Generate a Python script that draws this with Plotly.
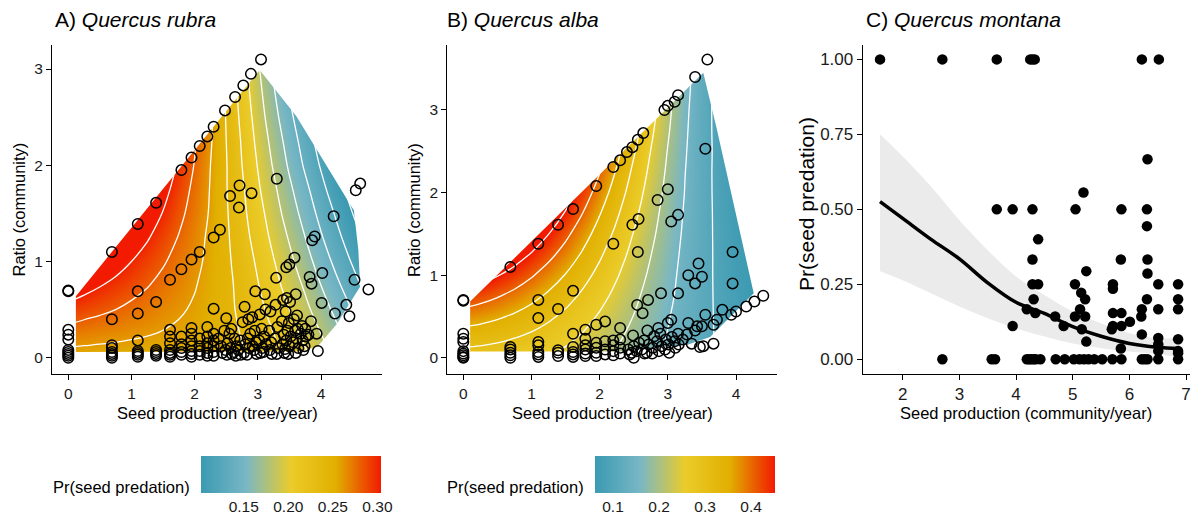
import plotly.graph_objects as go

W, H = 1195, 518

# ---------------- data: panel A (Quercus rubra) ----------------
a_cols_x = [0.0, 0.69, 1.10, 1.39, 1.61, 1.79, 1.95, 2.08, 2.20, 2.30]
a_cols_r = [
    [0.70, 0.69, 0.29, 0.24, 0.19, 0.08, 0.06, 0.04, 0.02, 0.0],
    [1.10, 0.40, 0.13, 0.10, 0.06, 0.04, 0.02, 0.0],
    [1.39, 0.69, 0.46, 0.18, 0.07, 0.05, 0.03, 0.01],
    [1.61, 0.58, 0.08, 0.06, 0.04, 0.02],
    [0.81, 0.29, 0.22, 0.15, 0.08, 0.05, 0.03, 0.01],
    [1.95, 0.92, 0.22, 0.14, 0.10, 0.06, 0.03],
    [2.08, 1.02, 0.31, 0.25, 0.18, 0.12, 0.07, 0.04, 0.01],
    [2.20, 1.10, 0.20, 0.12, 0.07, 0.03],
    [2.30, 0.32, 0.22, 0.15, 0.10, 0.05, 0.02],
    [2.40, 1.25, 0.51, 0.25, 0.18, 0.12, 0.06, 0.02],
]
a_pts_x = [2.40, 2.38, 2.42, 2.44, 2.48, 2.50, 2.47, 2.52, 2.49, 2.51, 2.56, 2.58, 2.55, 2.57, 2.59,
           2.64, 2.63, 2.66, 2.62, 2.65, 2.71, 2.70, 2.72, 2.69, 2.73, 2.77, 2.79, 2.76, 2.80, 2.78,
           2.85, 2.84, 2.86, 2.83, 2.89, 2.90, 2.91, 2.88, 2.92, 2.96, 2.95, 2.97, 2.94, 2.98,
           3.05, 3.03, 3.06, 3.02, 3.07, 3.04, 3.11, 3.12, 3.10, 3.13, 3.09, 3.20, 3.18, 3.21, 3.19, 3.22,
           3.30, 3.29, 3.28, 3.31, 3.27, 3.32, 3.30, 3.40, 3.38, 3.41, 3.39, 3.42,
           3.45, 3.46, 3.44, 3.47, 3.45, 3.43, 3.50, 3.51, 3.49, 3.52, 3.50, 3.48,
           3.58, 3.60, 3.57, 3.59, 3.56, 3.62, 3.63, 3.61, 3.64, 3.60, 3.70, 3.68, 3.71, 3.72,
           3.75, 3.76, 3.74, 3.82, 3.85, 3.84, 3.80, 3.86, 3.90, 3.95, 3.93, 4.02, 4.01,
           4.20, 4.22, 4.40, 4.45, 4.55, 4.53, 4.62, 4.75]
a_pts_r = [1.33, 0.20, 0.12, 0.05, 2.57, 0.41, 0.28, 0.15, 0.08, 0.03, 1.68, 0.30, 0.25, 0.10, 0.04,
           2.71, 0.20, 0.12, 0.06, 0.02, 1.79, 1.56, 0.18, 0.08, 0.03, 2.83, 0.53, 0.37, 0.14, 0.05,
           0.40, 0.20, 0.10, 0.03, 2.95, 1.71, 0.42, 0.25, 0.12, 0.69, 0.28, 0.16, 0.08, 0.04,
           3.10, 0.45, 0.30, 0.18, 0.10, 0.05, 0.66, 0.50, 0.22, 0.14, 0.06, 0.48, 0.28, 0.16, 0.08, 0.04,
           1.86, 0.83, 0.55, 0.32, 0.20, 0.10, 0.04, 0.60, 0.38, 0.24, 0.14, 0.05,
           0.94, 0.62, 0.48, 0.28, 0.18, 0.09, 0.97, 0.58, 0.36, 0.22, 0.12, 0.04,
           1.04, 0.66, 0.40, 0.28, 0.16, 0.44, 0.30, 0.20, 0.10, 0.05, 0.33, 0.25, 0.18, 0.08,
           0.30, 0.22, 0.12, 0.84, 0.77, 0.38, 0.24, 1.22, 1.26, 0.07, 0.25, 0.88, 0.57,
           1.47, 0.46, 0.55, 0.43, 1.74, 0.81, 1.81, 0.71]
a_hull_x = [0.12, 3.65, 3.95, 4.25, 4.62, 4.59, 4.52, 3.61, 3.03, 0.12]
a_hull_r = [0.06, 0.065, 0.12, 0.35, 0.74, 1.12, 1.53, 2.51, 2.99, 0.64]

# predicted Pr(seed predation) surface (per mille)
pred_a_x = [0.0, 0.25, 0.5, 0.75, 1.0, 1.25, 1.5, 1.75, 2.0, 2.25, 2.5, 2.75, 3.0, 3.25, 3.5, 3.75, 4.0, 4.25, 4.5, 4.75]
pred_a_r = [0.0, 0.25, 0.5, 0.75, 1.0, 1.25, 1.5, 1.75, 2.0, 2.25, 2.5, 2.75, 3.0]
pred_a = [
    [251, 251, 251, 251, 251, 251, 251, 251, 251, 250, 247, 242, 235, 226, 216, 204, 191, 177, 162, 147],
    [272, 269, 267, 265, 263, 261, 259, 257, 255, 251, 246, 239, 230, 220, 208, 195, 180, 165, 150, 135],
    [293, 288, 284, 280, 275, 271, 266, 262, 258, 253, 245, 236, 226, 213, 200, 185, 170, 154, 139, 123],
    [315, 308, 301, 294, 288, 281, 274, 268, 261, 254, 245, 234, 221, 207, 192, 177, 160, 144, 128, 112],
    [339, 329, 319, 310, 300, 291, 282, 273, 265, 255, 244, 231, 217, 201, 185, 168, 151, 134, 118, 102],
    [363, 350, 338, 325, 313, 302, 290, 279, 268, 256, 243, 228, 212, 195, 178, 160, 142, 125, 109, 93],
    [387, 372, 357, 342, 327, 313, 299, 285, 272, 258, 242, 225, 208, 189, 171, 152, 134, 117, 100, 85],
    [413, 394, 376, 358, 341, 323, 307, 291, 275, 259, 241, 223, 203, 184, 164, 145, 126, 108, 92, 77],
    [439, 417, 396, 375, 355, 335, 315, 297, 279, 260, 241, 220, 199, 178, 157, 137, 118, 101, 85, 70],
    [465, 440, 416, 392, 369, 346, 324, 303, 282, 262, 240, 218, 195, 173, 151, 131, 111, 94, 78, 64],
    [491, 464, 436, 410, 383, 358, 333, 309, 286, 263, 239, 215, 191, 167, 145, 124, 105, 87, 71, 58],
    [517, 487, 457, 427, 398, 369, 342, 315, 289, 264, 238, 212, 187, 162, 139, 118, 98, 81, 65, 52],
    [544, 511, 478, 445, 413, 381, 351, 321, 293, 265, 237, 210, 183, 157, 133, 112, 92, 75, 60, 48],
]

# ---------------- data: panel B (Quercus alba) ----------------
b_cols_x = [0.0, 0.69, 1.10, 1.39, 1.61, 1.79, 1.95, 2.08, 2.20, 2.30]
b_cols_r = [
    [0.70, 0.69, 0.29, 0.23, 0.19, 0.08, 0.05, 0.03, 0.01, 0.0],
    [1.10, 0.13, 0.10, 0.06, 0.03, 0.0],
    [1.38, 0.70, 0.48, 0.19, 0.15, 0.07, 0.04, 0.01],
    [1.61, 0.59, 0.09, 0.06, 0.02],
    [1.80, 0.81, 0.29, 0.13, 0.07, 0.04, 0.01],
    [0.34, 0.23, 0.15, 0.10, 0.05, 0.02],
    [2.08, 0.40, 0.18, 0.12, 0.06, 0.02],
    [0.44, 0.20, 0.10, 0.04],
    [2.31, 1.38, 0.21, 0.15, 0.08, 0.03],
    [2.39, 0.36, 0.22, 0.12, 0.05],
]
b_pts_x = [2.40, 2.42, 2.44, 2.48, 2.48, 2.49, 2.50, 2.47, 2.50, 2.56, 2.57, 2.56, 2.55, 2.58, 2.54,
           2.64, 2.63, 2.65, 2.62, 2.66, 2.71, 2.70, 2.72, 2.69, 2.80, 2.78, 2.77, 2.85, 2.86, 2.84, 2.87,
           2.90, 2.89, 2.91, 2.95, 2.97, 2.96, 3.00, 3.00, 3.00, 3.01, 3.02, 3.05, 3.05, 3.06,
           3.10, 3.10, 3.11, 3.15, 3.15, 3.15, 3.15, 3.16, 3.22, 3.30, 3.30, 3.28,
           3.40, 3.40, 3.40, 3.35, 3.45, 3.47, 3.43, 3.50, 3.50, 3.52, 3.55, 3.55, 3.58,
           3.67, 3.67, 3.72, 3.80, 3.95, 3.95, 3.93, 4.00, 4.15, 4.27, 4.40]
b_pts_r = [2.49, 0.10, 0.04, 2.55, 1.61, 0.27, 0.14, 0.06, 0.0, 2.64, 1.68, 1.28, 0.64, 0.18, 0.08,
           2.72, 0.54, 0.21, 0.10, 0.05, 0.70, 0.33, 0.16, 0.06, 0.26, 0.12, 0.05, 1.91, 0.36, 0.20, 0.08,
           0.78, 0.29, 0.14, 3.00, 0.22, 0.10, 3.05, 2.04, 0.42, 0.16, 0.06, 1.65, 0.46, 0.25,
           3.10, 0.20, 0.12, 3.18, 1.73, 0.78, 0.29, 0.16, 0.22, 1.00, 0.42, 0.28,
           3.40, 0.90, 0.33, 0.17, 1.14, 0.13, 0.38, 0.98, 0.38, 0.14, 2.53, 0.52, 3.61,
           0.17, 0.40, 0.46, 0.58, 1.28, 0.90, 0.52, 0.56, 0.62, 0.68, 0.75]
b_hull_x = [0.10, 2.35, 3.30, 3.62, 4.26, 3.71, 3.52, 0.10]
b_hull_r = [0.075, 0.075, 0.16, 0.25, 0.78, 2.80, 3.45, 0.68]

pred_b_x = [0.0, 0.25, 0.5, 0.75, 1.0, 1.25, 1.5, 1.75, 2.0, 2.25, 2.5, 2.75, 3.0, 3.25, 3.5, 3.75, 4.0, 4.25]
pred_b_r = [0.0, 0.25, 0.5, 0.75, 1.0, 1.25, 1.5, 1.75, 2.0, 2.25, 2.5, 2.75, 3.0, 3.25, 3.5]
pred_b = [
    [275, 274, 270, 265, 257, 248, 236, 223, 209, 193, 177, 160, 144, 127, 111, 96, 82, 69],
    [324, 319, 312, 302, 291, 277, 262, 245, 226, 207, 188, 168, 148, 130, 112, 95, 80, 66],
    [377, 368, 357, 343, 327, 309, 289, 268, 245, 222, 199, 176, 153, 132, 112, 94, 78, 63],
    [433, 420, 404, 386, 365, 342, 318, 292, 265, 238, 210, 184, 159, 135, 113, 93, 76, 61],
    [492, 474, 453, 430, 405, 377, 348, 317, 286, 254, 223, 192, 164, 137, 114, 92, 74, 59],
    [550, 528, 504, 476, 446, 414, 380, 344, 307, 271, 235, 201, 169, 140, 114, 92, 72, 56],
    [607, 582, 554, 523, 488, 451, 412, 371, 330, 289, 248, 210, 175, 143, 115, 91, 71, 54],
    [661, 634, 603, 568, 531, 489, 446, 400, 353, 307, 262, 219, 180, 146, 116, 90, 69, 52],
    [711, 683, 650, 613, 572, 528, 479, 429, 377, 326, 276, 229, 186, 149, 116, 89, 67, 50],
    [757, 728, 694, 656, 613, 565, 514, 459, 402, 345, 290, 239, 192, 151, 117, 88, 66, 48],
    [797, 769, 735, 697, 652, 602, 548, 489, 427, 365, 305, 249, 198, 154, 118, 88, 64, 46],
    [833, 805, 773, 734, 690, 638, 581, 519, 453, 386, 321, 260, 205, 157, 118, 87, 63, 44],
    [863, 837, 806, 769, 725, 673, 614, 549, 479, 407, 337, 270, 211, 160, 119, 86, 61, 42],
    [888, 865, 836, 800, 757, 706, 646, 578, 505, 428, 353, 281, 218, 164, 120, 85, 60, 41],
    [909, 888, 862, 828, 787, 736, 676, 607, 531, 450, 369, 293, 224, 167, 120, 85, 58, 39],
]

# ---------------- data: panel C (Quercus montana) ----------------
c_x = [1.60, 2.70, 3.66, 4.25, 4.29, 4.33, 6.22, 6.52,
       2.70, 3.57, 3.63, 4.19, 4.23, 4.27, 4.31, 4.35, 4.43, 4.70, 4.86, 5.02, 5.12, 5.20, 5.28, 5.38,
       5.52, 5.70, 5.86, 6.22, 6.27, 6.32, 6.51, 6.86,
       3.66, 3.94, 4.29, 5.05, 5.86, 6.31, 5.19, 6.32, 6.31, 4.39, 4.29, 5.85, 6.32, 5.24, 6.32,
       4.29, 4.39, 5.04, 5.71, 6.51, 6.86, 5.71, 5.15, 4.31, 5.22, 6.31, 6.86,
       4.19, 5.13, 6.22, 6.51, 6.86, 4.34, 5.71, 5.86, 4.69, 5.04, 5.22, 6.21, 6.01,
       3.94, 4.84, 5.71, 5.86, 5.69, 5.16, 6.22, 6.51, 6.86, 5.24, 6.51, 5.85, 6.86, 6.51, 6.86]
c_y = [1.0, 1.0, 1.0, 1.0, 1.0, 1.0, 1.0, 1.0,
       0.0, 0.0, 0.0, 0.0, 0.0, 0.0, 0.0, 0.0, 0.0, 0.0, 0.0, 0.0, 0.0, 0.0, 0.0, 0.0,
       0.0, 0.0, 0.0, 0.0, 0.0, 0.0, 0.0, 0.0,
       0.5, 0.5, 0.5, 0.5, 0.5, 0.5, 0.556, 0.667, 0.444, 0.4, 0.333, 0.333, 0.333, 0.294, 0.286,
       0.25, 0.25, 0.25, 0.25, 0.25, 0.25, 0.235, 0.222, 0.2, 0.2, 0.2, 0.2,
       0.167, 0.167, 0.167, 0.167, 0.167, 0.154, 0.154, 0.154, 0.143, 0.143, 0.143, 0.143, 0.125,
       0.111, 0.111, 0.111, 0.111, 0.1, 0.1, 0.083, 0.071, 0.067, 0.059, 0.05, 0.036, 0.028, 0.028, 0.02]
c_fit_x = [1.6, 2.0, 2.5, 3.0, 3.5, 4.0, 4.5, 5.0, 5.5, 6.0, 6.5, 6.86]
c_fit = [0.526, 0.47, 0.40, 0.335, 0.255, 0.19, 0.153, 0.109, 0.077, 0.053, 0.04, 0.036]
c_hi = [0.75, 0.676, 0.576, 0.464, 0.364, 0.276, 0.214, 0.159, 0.12, 0.087, 0.07, 0.064]
c_lo = [0.294, 0.264, 0.22, 0.176, 0.137, 0.103, 0.076, 0.053, 0.037, 0.026, 0.018, 0.014]

ZISSOU = [[0, '#3B9AB2'], [0.25, '#78B7C5'], [0.5, '#EBCC2A'], [0.75, '#E1AF00'], [1, '#F21A00']]
FONT = 'Liberation Sans, Arial, Helvetica, sans-serif'
CB_TOP, CB_THICK, CB_LEN = 455.7, 36.5, 180


def flatten(cols_x, cols_r, px_, pr_):
    xs, rs = [], []
    for cx, cr in zip(cols_x, cols_r):
        xs += [cx] * len(cr)
        rs += cr
    return xs + px_, rs + pr_


def mask(hx, hr, xr, yr):
    x0, x1 = xr[0] - 1, xr[1] + 1
    y0, y1 = yr[0] - 1, yr[1] + 1
    mx = [x0, x1, x1, x0, x0] + [hx[0]] + list(reversed(hx)) + [hx[0], x0]
    my = [y0, y0, y1, y1, y0] + [hr[0]] + list(reversed(hr)) + [hr[0], y0]
    return mx, my


fig = go.Figure()

panels = [
    dict(ax='x', ay='y', gx=pred_a_x, gr=pred_a_r, z=pred_a, zmin=0.102, zmax=0.304, lev=(0.10, 0.30, 0.02),
         hx=a_hull_x, hr=a_hull_r, cols=(a_cols_x, a_cols_r, a_pts_x, a_pts_r), xr=[-0.258, 4.965], yr=[-0.169, 3.25],
         cbx=201, tv=[0.15, 0.20, 0.25, 0.30], tt=['0.15', '0.20', '0.25', '0.30']),
    dict(ax='x2', ay='y2', gx=pred_b_x, gr=pred_b_r, z=pred_b, zmin=0.060, zmax=0.451, lev=(0.05, 0.45, 0.05),
         hx=b_hull_x, hr=b_hull_r, cols=(b_cols_x, b_cols_r, b_pts_x, b_pts_r), xr=[-0.235, 4.597], yr=[-0.197, 3.787],
         cbx=594.6, tv=[0.1, 0.2, 0.3, 0.4], tt=['0.1', '0.2', '0.3', '0.4']),
]

for p in panels:
    z = [[v / 1000 for v in row] for row in p['z']]
    fig.add_trace(go.Heatmap(
        x=p['gx'], y=p['gr'], z=z, zsmooth='best', colorscale=ZISSOU, zmin=p['zmin'], zmax=p['zmax'],
        xaxis=p['ax'], yaxis=p['ay'], hoverinfo='skip',
        colorbar=dict(orientation='h', x=p['cbx'] / W, xanchor='left', y=1 - CB_TOP / H, yanchor='top',
                      lenmode='pixels', len=CB_LEN, thicknessmode='pixels', thickness=CB_THICK,
                      xpad=0, ypad=0, outlinewidth=0, tickvals=p['tv'], ticktext=p['tt'],
                      ticks='', tickfont=dict(family=FONT, size=15.5, color='#1a1a1a'))))
    fig.add_trace(go.Contour(
        x=p['gx'], y=p['gr'], z=z, xaxis=p['ax'], yaxis=p['ay'], showscale=False, hoverinfo='skip',
        contours=dict(start=p['lev'][0], end=p['lev'][1], size=p['lev'][2], coloring='none'),
        line=dict(color='white', width=1.3, smoothing=1.0)))
    mx, my = mask(p['hx'], p['hr'], p['xr'], p['yr'])
    fig.add_trace(go.Scatter(x=mx, y=my, mode='lines', fill='toself', fillcolor='white', line=dict(width=0),
                             xaxis=p['ax'], yaxis=p['ay'], hoverinfo='skip', showlegend=False))
    xs, rs = flatten(*p['cols'])
    fig.add_trace(go.Scatter(x=xs, y=rs, mode='markers', xaxis=p['ax'], yaxis=p['ay'], showlegend=False,
                             marker=dict(size=10.5, color='rgba(0,0,0,0)', line=dict(color='black', width=1.5))))
    # white tick marks on both edges of the colour bar (as in the reference legend)
    for v in p['tv']:
        xpix = p['cbx'] + (v - p['zmin']) / (p['zmax'] - p['zmin']) * CB_LEN
        for y0, y1 in ((CB_TOP, CB_TOP + 6), (CB_TOP + CB_THICK - 6, CB_TOP + CB_THICK)):
            fig.add_shape(type='line', xref='paper', yref='paper', x0=xpix / W, x1=xpix / W,
                          y0=1 - y0 / H, y1=1 - y1 / H, line=dict(color='white', width=1), layer='above')

# panel C
fig.add_trace(go.Scatter(x=c_fit_x + c_fit_x[::-1], y=c_hi + c_lo[::-1], fill='toself', fillcolor='#EBEBEB',
                         mode='lines', line=dict(width=0, shape='spline'), xaxis='x3', yaxis='y3',
                         hoverinfo='skip', showlegend=False))
fig.add_trace(go.Scatter(x=c_x, y=c_y, mode='markers', xaxis='x3', yaxis='y3', showlegend=False,
                         marker=dict(size=10.5, color='black', line=dict(width=0))))
fig.add_trace(go.Scatter(x=c_fit_x, y=c_fit, mode='lines', line=dict(color='black', width=3.5, shape='spline'),
                         xaxis='x3', yaxis='y3', showlegend=False))

ax_common = dict(showline=True, linecolor='black', linewidth=1.1, ticks='outside', ticklen=5, tickwidth=1.1,
                 tickcolor='black', showgrid=False, zeroline=False,
                 tickfont=dict(family=FONT, size=15.5, color='#1a1a1a'))
ax_c = dict(ax_common, tickfont=dict(family=FONT, size=17, color='#1a1a1a'))
ytop, ybot = 1 - 45 / H, 1 - 374 / H
fig.update_layout(
    width=W, height=H, margin=dict(l=0, r=0, t=0, b=0, pad=0, autoexpand=False),
    paper_bgcolor='white', plot_bgcolor='white', showlegend=False,
    xaxis=dict(domain=[52 / W, 382 / W], range=[-0.258, 4.965], tickvals=[0, 1, 2, 3, 4], anchor='y', **ax_common),
    yaxis=dict(domain=[ybot, ytop], range=[-0.169, 3.25], tickvals=[0, 1, 2, 3], anchor='x', **ax_common),
    xaxis2=dict(domain=[447.3 / W, 776.7 / W], range=[-0.235, 4.597], tickvals=[0, 1, 2, 3, 4], anchor='y2', **ax_common),
    yaxis2=dict(domain=[ybot, ytop], range=[-0.197, 3.787], tickvals=[0, 1, 2, 3], anchor='x2', **ax_common),
    xaxis3=dict(domain=[862.7 / W, 1190 / W], range=[1.294, 7.07], tickvals=[2, 3, 4, 5, 6, 7], anchor='y3', **ax_c),
    yaxis3=dict(domain=[ybot, ytop], range=[-0.049, 1.048], tickvals=[0, 0.25, 0.5, 0.75, 1.0],
                ticktext=['0.00', '0.25', '0.50', '0.75', '1.00'], anchor='x3', **ax_c),
)


def ann(x, y, text, size, xanchor='center', yanchor='middle', angle=0):
    fig.add_annotation(x=x / W, y=1 - y / H, xref='paper', yref='paper', text=text, showarrow=False,
                       xanchor=xanchor, yanchor=yanchor, textangle=angle,
                       font=dict(family=FONT, size=size, color='black'))


ann(53, 19, 'A) <i>Quercus rubra</i>', 21, xanchor='left')
ann(445, 19, 'B) <i>Quercus alba</i>', 21, xanchor='left')
ann(864, 19, 'C) <i>Quercus montana</i>', 21, xanchor='left')
ann(217, 413, 'Seed production (tree/year)', 16.5)
ann(612, 413, 'Seed production (tree/year)', 16.5)
ann(1026.4, 413, 'Seed production (community/year)', 16.5)
ann(18.5, 210, 'Ratio (community)', 16.5, angle=-90)
ann(414, 210, 'Ratio (community)', 16.5, angle=-90)
ann(806, 204, 'Pr(seed predation)', 21, angle=-90)
ann(191.7, 486.7, 'Pr(seed predation)', 16.5, xanchor='right')
ann(585.5, 486.7, 'Pr(seed predation)', 16.5, xanchor='right')

fig.write_html('out.html', config={'displayModeBar': False},
               post_script="document.body.style.margin='0px';document.body.style.overflow='hidden';")
